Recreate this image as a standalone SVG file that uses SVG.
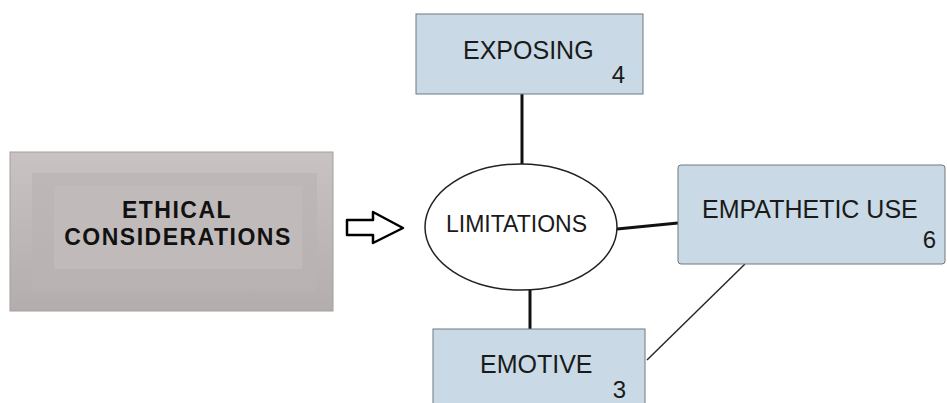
<svg xmlns="http://www.w3.org/2000/svg" width="947" height="403" viewBox="0 0 947 403">
<defs>
<linearGradient id="g1" x1="0" y1="0" x2="0" y2="1">
<stop offset="0" stop-color="#c8c3c2"/>
<stop offset="1" stop-color="#b3aead"/>
</linearGradient>
<linearGradient id="g2" x1="0" y1="0" x2="0" y2="1">
<stop offset="0" stop-color="#bdb8b7"/>
<stop offset="1" stop-color="#b8b3b2"/>
</linearGradient>
</defs>
<style>
.box{fill:#c9dae6;stroke:#6f7880;stroke-width:1}
.lbl{font-family:"Liberation Sans",Arial,sans-serif;font-size:25px;fill:#1a1a1a}
.num{font-family:"Liberation Sans",Arial,sans-serif;font-size:24px;fill:#1a1a1a;text-anchor:end}
.thick{stroke:#111;stroke-width:3;fill:none}
.thin{stroke:#222;stroke-width:1.4;fill:none}
</style>
<rect width="947" height="403" fill="#ffffff"/>
<g id="ethical">
<rect x="10" y="152" width="323" height="159" fill="url(#g1)" stroke="#a39e9d" stroke-width="1"/>
<rect x="32" y="173" width="285" height="118" fill="url(#g2)"/>
<rect x="54" y="186" width="248" height="83" fill="#c0bbba"/>
<text x="177" y="218" text-anchor="middle" font-family="'Liberation Sans',Arial,sans-serif" font-size="23" font-weight="bold" letter-spacing="1.5" fill="#111">ETHICAL</text>
<text x="178" y="245" text-anchor="middle" font-family="'Liberation Sans',Arial,sans-serif" font-size="23" font-weight="bold" letter-spacing="1.5" fill="#111">CONSIDERATIONS</text>
</g>
<g id="arrow">
<path d="M347,220 L373,220 L373,212 L403,228 L373,243 L373,235 L347,235 Z" fill="#fff" stroke="#000" stroke-width="2.5" stroke-linejoin="round"/>
</g>
<g id="connectors">
<line class="thick" x1="522" y1="94" x2="522" y2="164"/>
<line class="thick" x1="530" y1="290" x2="530" y2="329"/>
<line class="thick" x1="617" y1="229" x2="678" y2="223"/>
<line class="thin" x1="745" y1="264" x2="647" y2="360"/>
</g>
<g id="exposing">
<rect class="box" x="416" y="14" width="227" height="80"/>
<text class="lbl" x="463" y="59">EXPOSING</text>
<text class="num" x="625" y="83">4</text>
</g>
<g id="limitations">
<ellipse cx="521" cy="227" rx="96" ry="63" fill="#fff" stroke="#222" stroke-width="1.5"/>
<text x="446" y="232" font-family="'Liberation Sans',Arial,sans-serif" font-size="23" fill="#1a1a1a">LIMITATIONS</text>
</g>
<g id="empathetic">
<rect class="box" x="678" y="165" width="267" height="99" rx="3"/>
<text class="lbl" x="702" y="218">EMPATHETIC USE</text>
<text class="num" x="936" y="248">6</text>
</g>
<g id="emotive">
<rect class="box" x="433" y="329" width="212" height="90"/>
<text class="lbl" x="480" y="373">EMOTIVE</text>
<text class="num" x="626" y="398">3</text>
</g>
</svg>
